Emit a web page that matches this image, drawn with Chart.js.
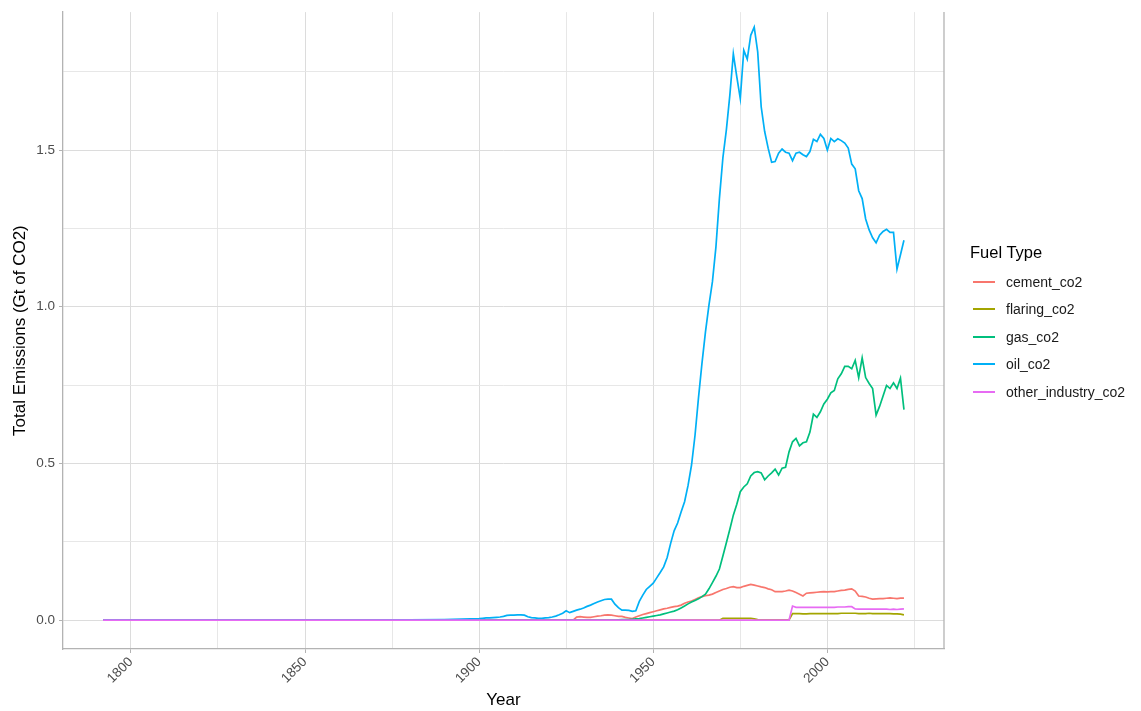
<!DOCTYPE html>
<html>
<head>
<meta charset="utf-8">
<script src="https://cdn.jsdelivr.net/npm/chart.js@4"></script>
<style>
    body { margin: 0; background: #fff; }
    #wrap { position: relative; width: 1141px; height: 711px; font-family: "Liberation Sans", Arial, Helvetica, sans-serif; }
    #legend-title { position: absolute; left: 970px; top: 242px; font-size: 16.5px; line-height: 20px; color: #000; }
    .key { position: absolute; left: 973px; width: 22px; height: 2px; }
    .lab { position: absolute; left: 1006px; font-size: 14px; line-height: 16px; color: #1a1a1a; }
</style>
</head>
<body>
<div id="wrap">
    <canvas id="emissionsChart" width="1141" height="711"></canvas>
    <div id="legend"></div>
</div>
<script>
// series names and colours (ggplot hue palette)
const fuelTypes = ["cement_co2", "flaring_co2", "gas_co2", "oil_co2", "other_industry_co2"];
const fuelColors = ["#F8766D", "#A3A500", "#00BF7D", "#00B0F6", "#E76BF3"];

const firstYear = 1792;

// oil: sparse early years, then yearly from 1900
const oilEarlyYears = [1792, 1860, 1870, 1880, 1890, 1895];
const oilEarly = [0, 0, 0.0005, 0.001, 0.002, 0.003];
const oilStart = 1900;
const oilValues = [
    0.005, 0.006, 0.007, 0.007, 0.008, 0.009, 0.010, 0.012, 0.015, 0.016,
    0.016, 0.017, 0.017, 0.016, 0.011, 0.008, 0.007, 0.006, 0.006, 0.007,
    0.008, 0.010, 0.013, 0.017, 0.022, 0.030, 0.024, 0.028, 0.032, 0.035,
    0.039, 0.044, 0.048, 0.053, 0.058, 0.062, 0.066, 0.067, 0.067, 0.051,
    0.040, 0.032, 0.032, 0.031, 0.028, 0.030, 0.060, 0.080, 0.098, 0.108,
    0.118, 0.135, 0.152, 0.170, 0.200, 0.245, 0.285, 0.310, 0.345, 0.378,
    0.430, 0.495, 0.590, 0.710, 0.820, 0.920, 1.005, 1.080, 1.190, 1.345,
    1.475, 1.564, 1.675, 1.807, 1.733, 1.664, 1.818, 1.790, 1.866, 1.892,
    1.813, 1.638, 1.559, 1.506, 1.461, 1.463, 1.490, 1.503, 1.493, 1.490,
    1.466, 1.490, 1.493, 1.485, 1.479, 1.495, 1.534, 1.527, 1.550, 1.537,
    1.500, 1.537, 1.527, 1.536, 1.530, 1.522, 1.506, 1.455, 1.440, 1.370,
    1.345, 1.280, 1.245, 1.220, 1.204, 1.228, 1.240, 1.247, 1.237, 1.237,
    1.120, 1.166, 1.212
];

const gasStart = 1940;
const gasValues = [
    0.001, 0.002, 0.002, 0.002, 0.003, 0.004, 0.005, 0.007, 0.009, 0.011,
    0.013, 0.015, 0.017, 0.020, 0.023, 0.026, 0.029, 0.033, 0.039, 0.045,
    0.052, 0.058, 0.063, 0.068, 0.075, 0.083, 0.100, 0.120, 0.140, 0.163,
    0.205, 0.247, 0.290, 0.335, 0.370, 0.410, 0.425, 0.435, 0.460, 0.471,
    0.474, 0.470, 0.448, 0.460, 0.470, 0.482, 0.463, 0.485, 0.488, 0.537,
    0.569, 0.580, 0.556, 0.566, 0.569, 0.600, 0.657, 0.647, 0.665, 0.690,
    0.705, 0.725, 0.733, 0.770, 0.786, 0.810, 0.810, 0.802, 0.829, 0.774,
    0.837, 0.774, 0.755, 0.739, 0.654, 0.682, 0.715, 0.749, 0.739, 0.757,
    0.739, 0.772, 0.672
];

const cementStart = 1928;
const cementValues = [
    0.010, 0.011,
    0.010, 0.009, 0.009, 0.011, 0.013, 0.014, 0.016, 0.017, 0.016, 0.014,
    0.012, 0.012, 0.009, 0.007, 0.005, 0.010, 0.014, 0.018, 0.021, 0.024,
    0.027, 0.030, 0.033, 0.036, 0.038, 0.041, 0.043, 0.045, 0.048, 0.054,
    0.058, 0.061, 0.066, 0.071, 0.075, 0.078, 0.080, 0.083, 0.088, 0.093,
    0.098, 0.101, 0.105, 0.107, 0.104, 0.104, 0.108, 0.111, 0.114, 0.112,
    0.109, 0.106, 0.104, 0.100, 0.097, 0.091, 0.091, 0.091, 0.093, 0.096,
    0.093, 0.088, 0.083, 0.077, 0.086, 0.087, 0.088, 0.089, 0.090, 0.091,
    0.090, 0.091, 0.091, 0.093, 0.095, 0.096, 0.098, 0.100, 0.093, 0.077,
    0.076, 0.074, 0.070, 0.067, 0.068, 0.069, 0.069, 0.070, 0.071, 0.070,
    0.069, 0.070, 0.070
];

const flaringStart = 1970;
const flaringValues = [
    0.006, 0.006, 0.006, 0.006, 0.006, 0.006, 0.006, 0.006, 0.006, 0.004,
    0.002, 0.001, 0.001, 0.001, 0.001, 0.001, 0.001, 0.001, 0.001, 0.001,
    0.021, 0.021, 0.021, 0.020, 0.020, 0.021, 0.021, 0.021, 0.021, 0.021,
    0.021, 0.021, 0.021, 0.021, 0.022, 0.022, 0.022, 0.022, 0.022, 0.021,
    0.021, 0.021, 0.022, 0.021, 0.021, 0.021, 0.021, 0.021, 0.021, 0.020,
    0.020, 0.019, 0.017
];

const otherStart = 1990;
const otherValues = [
    0.045, 0.041, 0.041, 0.041, 0.041, 0.041, 0.041, 0.041, 0.041, 0.041,
    0.041, 0.041, 0.041, 0.042, 0.042, 0.042, 0.043, 0.043, 0.036, 0.035,
    0.035, 0.035, 0.035, 0.035, 0.035, 0.035, 0.035, 0.035, 0.034, 0.035,
    0.034, 0.035, 0.036
];

// series are zero from the first year until their start year
function toPoints(start, values, earlyYears, early) {
    let pts;
    if (earlyYears) {
        pts = earlyYears.map((yr, i) => ({ x: yr, y: early[i] }));
    } else {
        pts = [{ x: firstYear, y: 0 }, { x: start - 1, y: 0 }];
    }
    values.forEach((v, i) => pts.push({ x: start + i, y: v }));
    return pts;
}

const seriesPoints = [
    toPoints(cementStart, cementValues),
    toPoints(flaringStart, flaringValues),
    toPoints(gasStart, gasValues),
    toPoints(oilStart, oilValues, oilEarlyYears, oilEarly),
    toPoints(otherStart, otherValues)
];

const tickFont = { family: "Liberation Sans, Arial, sans-serif", size: 13.5 };
const titleFont = { family: "Liberation Sans, Arial, sans-serif", size: 17 };
const frameColor = "#b3b3b3";

const datasets = fuelTypes.map((name, i) => ({
    label: name,
    data: seriesPoints[i],
    borderColor: fuelColors[i],
    backgroundColor: fuelColors[i],
    borderWidth: 1.7,
    pointRadius: 0,
    tension: 0,
    order: fuelTypes.length - i   // last series drawn on top, like ggplot
}));

// panel has a right border too
const rightBorder = {
    id: "rightBorder",
    afterDraw(chart) {
        const { ctx, chartArea } = chart;
        ctx.save();
        ctx.strokeStyle = frameColor;
        ctx.lineWidth = 1.3;
        ctx.beginPath();
        ctx.moveTo(chartArea.right, chartArea.top);
        ctx.lineTo(chartArea.right, chartArea.bottom);
        ctx.stroke();
        ctx.restore();
    }
};

const isMajorX = v => v % 50 === 0;
const isMajorY = v => Math.abs(v * 2 - Math.round(v * 2)) < 1e-6;

new Chart(document.getElementById("emissionsChart").getContext("2d"), {
    type: "line",
    data: { datasets: datasets },
    options: {
        responsive: false,
        animation: false,
        devicePixelRatio: 1,
        layout: { padding: { left: 0, top: 10, right: 197, bottom: 0 } },
        plugins: { legend: { display: false }, tooltip: { enabled: false } },
        scales: {
            x: {
                type: "linear",
                min: 1780.5,
                max: 2033.5,
                afterFit: s => { s.height = 62; },
                ticks: {
                    stepSize: 25,
                    includeBounds: false,
                    autoSkip: false,
                    minRotation: 45,
                    maxRotation: 45,
                    padding: 1,
                    color: "#4d4d4d",
                    font: tickFont,
                    callback: v => isMajorX(v) ? String(v) : ""
                },
                grid: {
                    color: ctx => isMajorX(ctx.tick.value) ? "#dcdcdc" : "#e4e4e4",
                    lineWidth: ctx => isMajorX(ctx.tick.value) ? 1 : 0.9,
                    tickLength: 4,
                    tickColor: ctx => isMajorX(ctx.tick.value) ? frameColor : "rgba(0,0,0,0)"
                },
                border: { display: true, color: frameColor, width: 1.3 },
                title: { display: true, text: "Year", color: "#000", font: titleFont, padding: { top: 0, bottom: 0 } }
            },
            y: {
                min: -0.092,
                max: 1.94,
                afterFit: s => { s.width = 63; },
                ticks: {
                    stepSize: 0.25,
                    includeBounds: false,
                    padding: 4,
                    color: "#4d4d4d",
                    font: tickFont,
                    callback: v => isMajorY(v) ? v.toFixed(1) : ""
                },
                grid: {
                    color: ctx => isMajorY(ctx.tick.value) ? "#dcdcdc" : "#e4e4e4",
                    lineWidth: ctx => isMajorY(ctx.tick.value) ? 1 : 0.9,
                    tickLength: 4,
                    tickColor: ctx => isMajorY(ctx.tick.value) ? frameColor : "rgba(0,0,0,0)"
                },
                border: { display: true, color: frameColor, width: 1.3 },
                title: { display: true, text: "Total Emissions (Gt of CO2)", color: "#000", font: titleFont, padding: { top: 10, bottom: 0 } }
            }
        }
    },
    plugins: [rightBorder]
});

// legend on the right, ggplot style
const legend = document.getElementById("legend");
const legendRows = [281.5, 309, 336.5, 364, 391.5];
let html = '<div id="legend-title">Fuel Type</div>';
fuelTypes.forEach((name, i) => {
    html += `<div class="key" style="top:${legendRows[i] - 1}px;background:${fuelColors[i]}"></div>`;
    html += `<div class="lab" style="top:${legendRows[i] - 8}px">${name}</div>`;
});
legend.innerHTML = html;
</script>
</body>
</html>
